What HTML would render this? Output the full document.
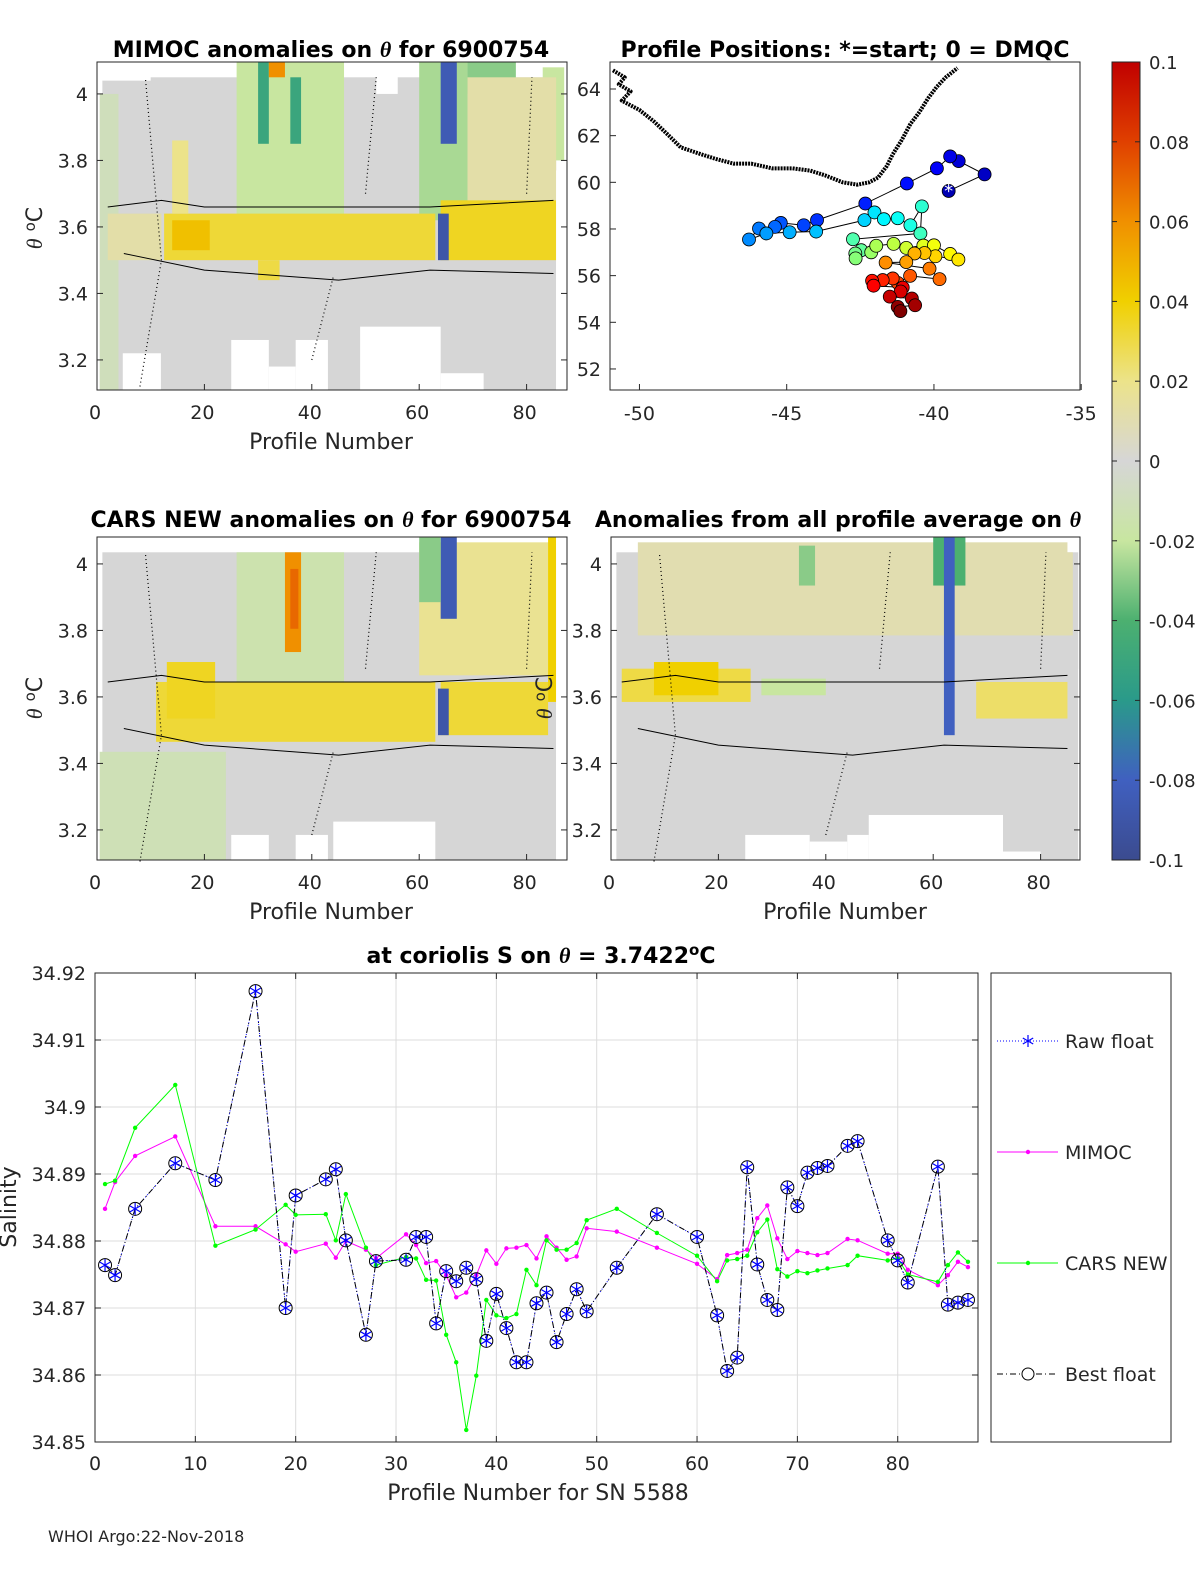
<!DOCTYPE html>
<html><head><meta charset="utf-8">
<style>
html,body{margin:0;padding:0;background:#fff;overflow:hidden;width:1200px;height:1575px;}
svg{display:block;}
svg text{font-family:"DejaVu Sans","Liberation Sans",sans-serif;fill:#262626;}
.t{font-weight:bold;font-size:22px;fill:#000;}
.tk{font-size:19px;}
.al{font-size:22px;}
</style></head>
<body>
<svg id="fig" xmlns="http://www.w3.org/2000/svg" width="1200" height="1575" viewBox="0 0 1200 1575">
<defs>
<linearGradient id="cbg" x1="0" y1="1" x2="0" y2="0">
<stop offset="0" stop-color="#3b4b8f"/><stop offset="0.1" stop-color="#4060c0"/><stop offset="0.2" stop-color="#2a9a8a"/><stop offset="0.3" stop-color="#4cb070"/><stop offset="0.4" stop-color="#c8e6a0"/><stop offset="0.5" stop-color="#d6d6d6"/><stop offset="0.6" stop-color="#ece38a"/><stop offset="0.7" stop-color="#f0d000"/><stop offset="0.8" stop-color="#f09000"/><stop offset="0.9" stop-color="#e04000"/><stop offset="1" stop-color="#c00000"/>
</linearGradient>
</defs>
<g id="heat1"></g>
<g id="heat2"></g>
<g id="heat3"></g>
<g id="map"></g>
<g id="bottom"></g>

<text class="t" x="331" y="57" text-anchor="middle">MIMOC anomalies on <tspan font-style="italic" font-family="Liberation Serif">θ</tspan>  for 6900754</text>
<text class="t" x="845" y="57" text-anchor="middle">Profile Positions: *=start; 0 = DMQC</text>
<text class="t" x="331" y="527" text-anchor="middle">CARS NEW anomalies on <tspan font-style="italic" font-family="Liberation Serif">θ</tspan> for 6900754</text>
<text class="t" x="838" y="527" text-anchor="middle">Anomalies from all profile average on <tspan font-style="italic" font-family="Liberation Serif">θ</tspan></text>
<text class="t" x="541" y="963" text-anchor="middle">at coriolis S on <tspan font-style="italic" font-family="Liberation Serif">θ</tspan> = 3.7422<tspan dy="-8" font-size="15">o</tspan><tspan dy="8">C</tspan></text>

<text class="al" transform="translate(42,228) rotate(-90)" text-anchor="middle"><tspan font-style="italic" font-family="Liberation Serif">θ</tspan> <tspan dy="-7" font-size="15">o</tspan><tspan dy="7">C</tspan></text>
<text class="al" transform="translate(42,698) rotate(-90)" text-anchor="middle"><tspan font-style="italic" font-family="Liberation Serif">θ</tspan> <tspan dy="-7" font-size="15">o</tspan><tspan dy="7">C</tspan></text>
<text class="al" transform="translate(552,698) rotate(-90)" text-anchor="middle"><tspan font-style="italic" font-family="Liberation Serif">θ</tspan> <tspan dy="-7" font-size="15">o</tspan><tspan dy="7">C</tspan></text>
<text class="al" x="331" y="449" text-anchor="middle">Profile Number</text>
<text class="al" x="331" y="919" text-anchor="middle">Profile Number</text>
<text class="al" x="845" y="919" text-anchor="middle">Profile Number</text>
<text class="al" x="538" y="1500" text-anchor="middle">Profile Number for SN 5588</text>
<text class="al" transform="translate(16,1207) rotate(-90)" text-anchor="middle">Salinity</text>
<text x="48" y="1542" font-size="16">WHOI Argo:22-Nov-2018</text>

<g>
<rect x="1112" y="62" width="28" height="798" fill="url(#cbg)" stroke="#262626" stroke-width="1"/>
</g>
<g id="cbt"></g>
</svg>
<script>
const cmapVals=[-0.1,-0.08,-0.06,-0.04,-0.02,0,0.02,0.04,0.06,0.08,0.1];
const cmapCols=[[59,75,143],[64,96,192],[42,154,138],[76,176,112],[200,230,160],[214,214,214],[236,227,138],[240,208,0],[240,144,0],[224,64,0],[192,0,0]];
function cmap(v){v=Math.max(-0.1,Math.min(0.1,v));for(let i=0;i<cmapVals.length-1;i++){if(v<=cmapVals[i+1]){const f=(v-cmapVals[i])/(cmapVals[i+1]-cmapVals[i]);const a=cmapCols[i],b=cmapCols[i+1];return 'rgb('+a.map((c,k)=>Math.round(c+(b[k]-c)*f)).join(',')+')';}}return 'rgb(192,0,0)';}
const NS='http://www.w3.org/2000/svg';
function mk(tag,attrs,parent){const e=document.createElementNS(NS,tag);for(const k in attrs)e.setAttribute(k,attrs[k]);parent.appendChild(e);return e;}

const heat1Blocks=[[1,85.5,3.11,4.05,0],[0.5,4,3.11,4.0,-0.01],[26,46,3.6,4.1,-0.02],[30,32,3.85,4.1,-0.05],[36,38,3.85,4.05,-0.05],[32,35,4.05,4.1,0.06],[60,69,3.62,4.1,-0.025],[64,67,3.85,4.1,-0.085],[69,78,4.0,4.1,-0.03],[83,87,3.8,4.08,-0.02],[69,85.5,3.68,4.05,0.012],[2,12,3.5,3.64,0.012],[12.5,63,3.5,3.64,0.032],[14,21,3.53,3.62,0.045],[14,17,3.64,3.86,0.02],[30,34,3.44,3.5,0.03],[64,85.5,3.5,3.68,0.035],[63.5,65.5,3.5,3.64,-0.09]];
const heat1Blank=[[0,10,4.04,4.12],[13,20,4.07,4.12],[52,56,4.0,4.12],[4.8,11.9,3.0,3.22],[25,32,3.0,3.26],[32,37,3.0,3.18],[37,43,3.0,3.26],[49,64,3.0,3.30],[64,72,3.0,3.16],[85.5,90,3.0,3.77]];
const heat2Blocks=[[1,85.5,3.11,4.05,0],[0.5,24,3.11,3.45,-0.012],[26,46,3.65,4.05,-0.015],[35,38,3.75,4.05,0.06],[36,37.5,3.82,4.0,0.07],[60,85,3.68,4.08,0.018],[64,67,3.85,4.1,-0.085],[60,64,3.9,4.1,-0.03],[11,63,3.48,3.66,0.032],[13,22,3.55,3.72,0.035],[64,84,3.5,3.66,0.032],[63.5,65.5,3.5,3.64,-0.09],[84,85.5,3.6,4.1,0.04]];
const heat2Blank=[[0,10,4.06,4.12],[25,32,3.0,3.2],[37,43,3.0,3.2],[44,63,3.0,3.24],[64,75,3.0,3.12],[85.5,90,3.0,4.2]];
const heat3Blocks=[[1,87,3.11,4.05,0],[5,85,3.8,4.08,0.01],[2,26,3.6,3.7,0.03],[8,20,3.62,3.72,0.04],[28,40,3.62,3.67,-0.02],[35,38,3.95,4.07,-0.03],[60,66,3.95,4.1,-0.04],[62,64,3.5,4.1,-0.08],[68,85,3.55,3.66,0.025],[80,86,3.8,4.05,0.01]];
const heat3Blank=[[25,37,3.0,3.2],[37,44,3.0,3.18],[44,48,3.0,3.2],[48,73,3.0,3.26],[73,80,3.0,3.15],[87,90,3.0,3.7]];

function drawHeat(g,bx,by,bw,bh,blocks,blanks){
  const xs=p=>bx+p*5.37, ys=t=>by+(4.096-t)*332.5;
  const clip=(v,lo,hi)=>Math.max(lo,Math.min(hi,v));
  blocks.forEach(b=>{const x0=clip(xs(b[0]),bx,bx+bw),x1=clip(xs(b[1]),bx,bx+bw),y0=clip(ys(b[3]),by,by+bh),y1=clip(ys(b[2]),by,by+bh);
    const r=mk('rect',{x:x0,y:y0,width:Math.max(0,x1-x0),height:Math.max(0,y1-y0),fill:cmap(b[4])},g);
    
    });
  blanks.forEach(b=>{const x0=clip(xs(b[0]),bx,bx+bw),x1=clip(xs(b[1]),bx,bx+bw),y0=clip(ys(b[3]),by,by+bh),y1=clip(ys(b[2]),by,by+bh);
    const r=mk('rect',{x:x0,y:y0,width:Math.max(0,x1-x0),height:Math.max(0,y1-y0),fill:'#fff'},g);
    
    });
  const c=mk('path',{d:'M'+xs(2)+' '+ys(3.66)+' L'+xs(12)+' '+ys(3.68)+' L'+xs(20)+' '+ys(3.66)+' L'+xs(62)+' '+ys(3.66)+' L'+xs(85)+' '+ys(3.68)+' M'+xs(5)+' '+ys(3.52)+' L'+xs(20)+' '+ys(3.47)+' L'+xs(45)+' '+ys(3.44)+' L'+xs(62)+' '+ys(3.47)+' L'+xs(85)+' '+ys(3.46),fill:'none',stroke:'#000','stroke-width':1},g);
  
  
  const c2=mk('path',{d:'M'+xs(8)+' '+ys(3.12)+' L'+xs(12)+' '+ys(3.5)+' L'+xs(9)+' '+ys(4.05)+' M'+xs(40)+' '+ys(3.2)+' L'+xs(44)+' '+ys(3.45)+' M'+xs(50)+' '+ys(3.7)+' L'+xs(52)+' '+ys(4.05)+' M'+xs(80)+' '+ys(3.7)+' L'+xs(81)+' '+ys(4.05),fill:'none',stroke:'#000','stroke-width':1.2,'stroke-dasharray':'1 3'},g);
  
  
  const box=mk('rect',{x:bx,y:by,width:bw,height:bh,fill:'none',stroke:'#262626','stroke-width':1},g);
  
  
}
const thetaTicks=[3.2,3.4,3.6,3.8,4];
const profTicks=[0,20,40,60,80];
function heatAxes(g,bx,by,bw,bh,labelLeft){
  thetaTicks.forEach(t=>{const y=by+(4.096-t)*332.5;mk('line',{x1:bx,x2:bx+6,y1:y,y2:y,stroke:'#262626'},g);mk('line',{x1:bx+bw,x2:bx+bw-6,y1:y,y2:y,stroke:'#262626'},g);
    const tx=mk('text',{x:labelLeft,y:y+7,'text-anchor':'end',class:'tk'},g);tx.textContent=(t===4?'4':t.toFixed(1));
    
    });
  profTicks.forEach(p=>{const x=bx+p*5.37;mk('line',{x1:x,x2:x,y1:by+bh,y2:by+bh-6,stroke:'#262626'},g);
    const tx=mk('text',{x:x-2,y:by+bh+29,'text-anchor':'middle',class:'tk'},g);tx.textContent=p;
    
    });
}
const h1=document.getElementById('heat1'),h2=document.getElementById('heat2'),h3=document.getElementById('heat3');
drawHeat(h1,97,62,470,328,heat1Blocks,heat1Blank);heatAxes(h1,97,62,470,328,88);
drawHeat(h2,97,537,470,323,heat2Blocks,heat2Blank);heatAxes(h2,97,532,470,328,88);
drawHeat(h3,611,537,469,323,heat3Blocks,heat3Blank);heatAxes(h3,611,532,469,328,602);

const cbTicks=[0.1,0.08,0.06,0.04,0.02,0,-0.02,-0.04,-0.06,-0.08,-0.1];
const cbg=document.getElementById('cbt');
cbTicks.forEach(v=>{const y=62+(0.1-v)/0.2*798;mk('line',{x1:1112,x2:1117,y1:y,y2:y,stroke:'#262626'},cbg);mk('line',{x1:1135,x2:1140,y1:y,y2:y,stroke:'#262626'},cbg);
  const tx=mk('text',{x:1149,y:y+7,class:'tk',style:'font-size:18px'},cbg);tx.textContent=String(v);
  
  });

const posLon=[-39.5,-38.28,-39.16,-39.45,-39.9,-40.92,-42.33,-43.97,-44.42,-45.2,-45.4,-45.94,-46.28,-45.69,-44.9,-44.0,-42.36,-42.02,-41.7,-41.23,-40.8,-40.41,-40.46,-42.75,-42.47,-42.67,-42.66,-42.13,-41.96,-41.37,-40.94,-40.36,-40.0,-39.45,-39.17,-39.95,-40.32,-40.66,-40.94,-41.64,-40.15,-39.81,-40.81,-41.23,-41.4,-41.74,-42.1,-42.05,-41.06,-41.13,-41.5,-40.75,-40.64,-41.23,-41.14];
const posLat=[59.63,60.34,60.91,61.11,60.6,59.95,59.09,58.38,58.16,58.26,58.09,58.02,57.55,57.81,57.86,57.89,58.38,58.71,58.42,58.46,58.16,58.97,57.81,57.56,57.09,56.95,56.74,57.0,57.28,57.36,57.19,57.29,57.3,56.93,56.69,56.83,56.97,56.95,56.58,56.56,56.3,55.85,55.99,55.69,55.88,55.81,55.78,55.57,55.49,55.32,55.1,55.02,54.73,54.66,54.48];
const coastLon=[-50.9,-50.5,-50.7,-50.3,-50.6,-50.0,-49.5,-49.0,-48.6,-47.9,-47.4,-46.8,-46.2,-45.5,-44.8,-44.2,-43.7,-43.1,-42.6,-42.2,-41.9,-41.6,-41.4,-41.1,-40.8,-40.5,-40.2,-39.9,-39.6,-39.2];
const coastLat=[64.8,64.5,64.2,63.9,63.5,63.1,62.6,62.0,61.5,61.2,61.0,60.8,60.8,60.6,60.6,60.5,60.3,60.0,59.9,60.0,60.2,60.7,61.2,61.8,62.5,63.0,63.6,64.1,64.5,64.9];
const latTicks=[52,54,56,58,60,62,64];
const lonTicks=[-50,-45,-40,-35];
(function(){
  const g=document.getElementById('map');
  const X=l=>610+(l+51)*29.45, Y=a=>89+(64-a)*23.33;
  let d='';coastLon.forEach((l,i)=>{d+=(i?'L':'M')+X(l)+' '+Y(coastLat[i]);});
  const cl=mk('path',{d:d,fill:'none',stroke:'#000','stroke-width':4,'stroke-dasharray':'2 1','stroke-linejoin':'round'},g);
  
  
  let t='';posLon.forEach((l,i)=>{t+=(i?'L':'M')+X(l)+' '+Y(posLat[i]);});
  const tr=mk('path',{d:t,fill:'none',stroke:'#000','stroke-width':1},g);
  
  
  const n=posLon.length;
  const jet=f=>{const r=Math.max(0,Math.min(1,1.5-Math.abs(4*f-3))),gg=Math.max(0,Math.min(1,1.5-Math.abs(4*f-2))),b=Math.max(0,Math.min(1,1.5-Math.abs(4*f-1)));return 'rgb('+[r,gg,b].map(v=>Math.round(v*255)).join(',')+')';};
  posLon.forEach((l,i)=>{const c=mk('circle',{cx:X(l),cy:Y(posLat[i]),r:6.5,fill:jet(0.05+0.95*i/(n-1)),stroke:'#000','stroke-width':0.8},g);
    
    });
  const s=mk('text',{x:X(posLon[0]),y:Y(posLat[0])+6,'text-anchor':'middle',style:'font-size:18px;fill:#fff'},g);s.textContent='*';
  
  
  mk('rect',{x:610,y:62,width:470,height:328,fill:'none',stroke:'#262626'},g);
  latTicks.forEach(a=>{const y=Y(a);mk('line',{x1:610,x2:616,y1:y,y2:y,stroke:'#262626'},g);
    const tx=mk('text',{x:601,y:y+7,'text-anchor':'end',class:'tk'},g);tx.textContent=a;
    
    });
  lonTicks.forEach(l=>{const x=X(l);mk('line',{x1:x,x2:x,y1:390,y2:384,stroke:'#262626'},g);
    const tx=mk('text',{x:x,y:420,'text-anchor':'middle',class:'tk'},g);tx.textContent=l;
    
    });
})();

const profiles=[1,2,4,8,12,16,19,20,23,24,25,27,28,31,32,33,34,35,36,37,38,39,40,41,42,43,44,45,46,47,48,49,52,56,60,62,63,64,65,66,67,68,69,70,71,72,73,75,76,79,80,81,84,85,86,87];
const bestFloat=[34.8764,34.8749,34.8848,34.8916,34.8891,34.9173,34.8700,34.8868,34.8892,34.8907,34.8801,34.8660,34.8770,34.8772,34.8806,34.8806,34.8677,34.8755,34.8740,34.8760,34.8743,34.8651,34.8721,34.8670,34.8619,34.8619,34.8707,34.8723,34.8649,34.8691,34.8728,34.8695,34.8760,34.8840,34.8806,34.8689,34.8606,34.8626,34.8910,34.8765,34.8712,34.8697,34.8880,34.8852,34.8902,34.8909,34.8912,34.8942,34.8949,34.8801,34.8771,34.8738,34.8911,34.8705,34.8708,34.8712];
const mimoc=[34.8848,34.8888,34.8927,34.8956,34.8822,34.8822,34.8795,34.8784,34.8796,34.8775,34.8800,34.8787,34.8774,34.8810,34.8794,34.8767,34.8770,34.8749,34.8716,34.8723,34.8749,34.8786,34.8766,34.8789,34.8790,34.8794,34.8774,34.8807,34.8790,34.8772,34.8777,34.8819,34.8814,34.8790,34.8766,34.8743,34.8779,34.8782,34.8787,34.8834,34.8853,34.8804,34.8773,34.8785,34.8782,34.8779,34.8782,34.8803,34.8801,34.8781,34.8781,34.8757,34.8734,34.8749,34.8769,34.8761];
const carsNew=[34.8885,34.8890,34.8969,34.9033,34.8793,34.8817,34.8854,34.8839,34.8840,34.8801,34.8870,34.8790,34.8764,34.8776,34.8774,34.8742,34.8741,34.8660,34.8619,34.8518,34.8599,34.8712,34.8689,34.8685,34.8691,34.8757,34.8734,34.8801,34.8787,34.8787,34.8797,34.8831,34.8848,34.8812,34.8778,34.8740,34.8771,34.8773,34.8778,34.8813,34.8832,34.8758,34.8747,34.8755,34.8752,34.8756,34.8759,34.8764,34.8778,34.8771,34.8774,34.8750,34.8739,34.8764,34.8783,34.8769];
const sTicks=[34.85,34.86,34.87,34.88,34.89,34.9,34.91,34.92];
const pTicks=[0,10,20,30,40,50,60,70,80];
(function(){
  const g=document.getElementById('bottom');
  const L=95,R=978,T=973,B=1442;
  const X=p=>L+p*(R-L)/88, Y=s=>B-(s-34.85)/0.07*(B-T);
  mk('rect',{x:L,y:T,width:R-L,height:B-T,fill:'#fff'},g);
  pTicks.forEach(p=>{const x=X(p);mk('line',{x1:x,x2:x,y1:T,y2:B,stroke:'#dcdcdc'},g);mk('line',{x1:x,x2:x,y1:B,y2:B-6,stroke:'#262626'},g);mk('line',{x1:x,x2:x,y1:T,y2:T+6,stroke:'#262626'},g);
    const tx=mk('text',{x:x,y:B+28,'text-anchor':'middle',class:'tk'},g);tx.textContent=p;
    
    });
  sTicks.forEach(s=>{const y=Y(s);mk('line',{x1:L,x2:R,y1:y,y2:y,stroke:'#dcdcdc'},g);mk('line',{x1:L,x2:L+6,y1:y,y2:y,stroke:'#262626'},g);mk('line',{x1:R,x2:R-6,y1:y,y2:y,stroke:'#262626'},g);
    const tx=mk('text',{x:86,y:y+7,'text-anchor':'end',class:'tk'},g);tx.textContent=(s===34.9?'34.9':s.toFixed(2));
    
    });
  mk('rect',{x:L,y:T,width:R-L,height:B-T,fill:'none',stroke:'#262626'},g);
  const path=arr=>arr.map((v,i)=>(i?'L':'M')+X(profiles[i]).toFixed(1)+' '+Y(v).toFixed(1)).join('');
  const lm=mk('path',{d:path(mimoc),fill:'none',stroke:'#ff00ff','stroke-width':1},g);
  
  
  const lc=mk('path',{d:path(carsNew),fill:'none',stroke:'#00ff00','stroke-width':1},g);
  
  
  const lr=mk('path',{d:path(bestFloat),fill:'none',stroke:'#0000ff','stroke-width':1,'stroke-dasharray':'1 2'},g);
  
  
  const lb=mk('path',{d:path(bestFloat),fill:'none',stroke:'#000','stroke-width':1,'stroke-dasharray':'6 3 1 3'},g);
  
  
  mimoc.forEach((v,i)=>{const c=mk('circle',{cx:X(profiles[i]),cy:Y(v),r:2.2,fill:'#ff00ff'},g);
    
    });
  carsNew.forEach((v,i)=>{const c=mk('circle',{cx:X(profiles[i]),cy:Y(v),r:2.2,fill:'#00ff00'},g);
    
    });
  const star=(gp,x,y)=>{[[0,6],[5.2,3],[5.2,-3]].forEach(a=>mk('line',{x1:x-a[0],y1:y-a[1],x2:x+a[0],y2:y+a[1],stroke:'#0000ff','stroke-width':1.2},gp));};
  bestFloat.forEach((v,i)=>{const x=X(profiles[i]),y=Y(v);
    const gp=mk('g',{},g);
    
    
    mk('circle',{cx:x,cy:y,r:6.5,fill:'none',stroke:'#000','stroke-width':1},gp);star(gp,x,y);});
  const lg=mk('g',{},g);
  
  
  mk('rect',{x:991,y:973,width:180,height:469,fill:'#fff',stroke:'#262626'},lg);
  const entries=[['Raw float',1041,'#0000ff','1 2'],['MIMOC',1152,'#ff00ff',''],['CARS NEW',1263,'#00ff00',''],['Best float',1374,'#000','6 3 1 3']];
  entries.forEach((e,k)=>{const eg=mk('g',{},lg);
    
    
    mk('line',{x1:997,x2:1058,y1:e[1],y2:e[1],stroke:e[2],'stroke-dasharray':e[3]},eg);
    if(k===0)star(eg,1028,e[1]);
    if(k===1||k===2)mk('circle',{cx:1028,cy:e[1],r:2.2,fill:e[2]},eg);
    if(k===3)mk('circle',{cx:1028,cy:e[1],r:6,fill:'#fff',stroke:'#000'},eg);
    const tx=mk('text',{x:1065,y:e[1]+7,style:'font-size:19px'},eg);tx.textContent=e[0];});
})();
</script>
</body></html>
